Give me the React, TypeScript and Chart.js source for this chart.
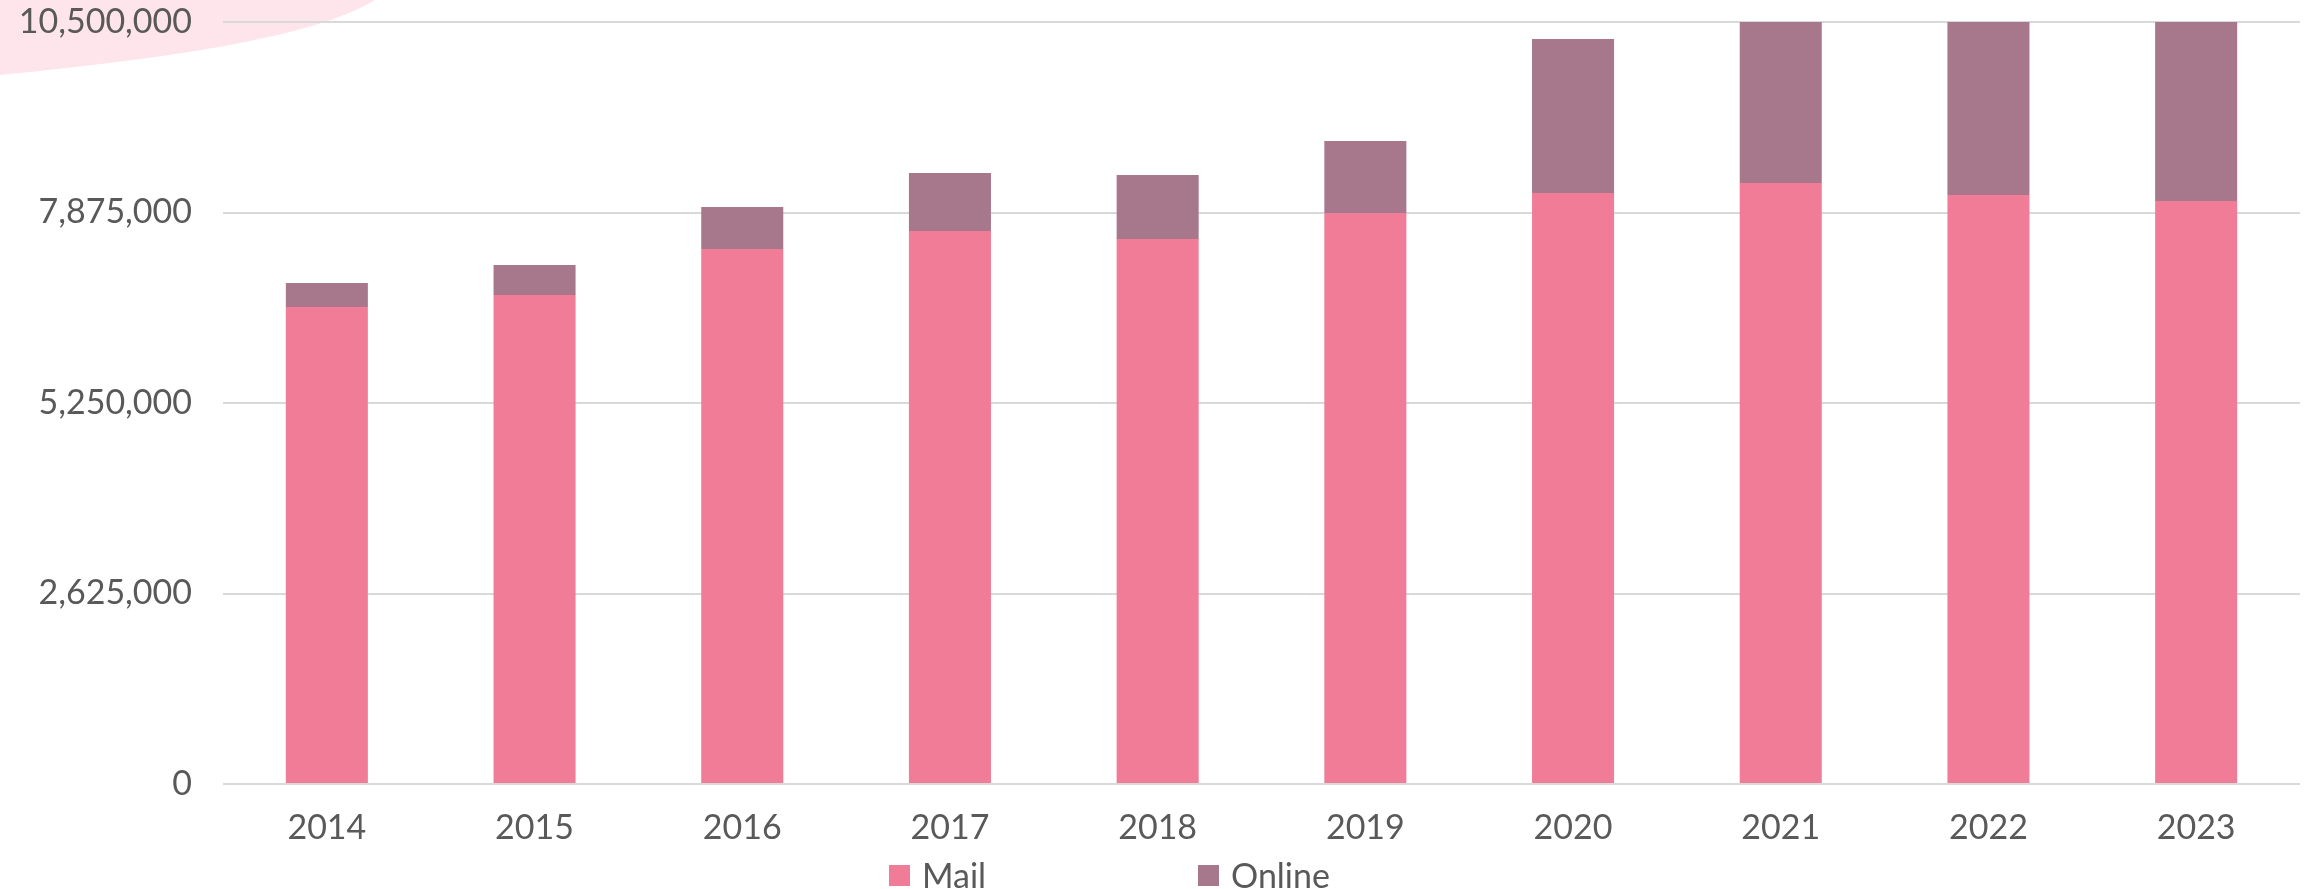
import React, { useEffect, useRef } from "react";
import { Chart, registerables } from "chart.js";

Chart.register(...registerables);

const years = ["2014", "2015", "2016", "2017", "2018", "2019", "2020", "2021", "2022", "2023"];
const mailValues = [6573000, 6738000, 7372000, 7620000, 7510000, 7868000, 8144000, 8282000, 8116000, 8034000];
const onlineValues = [331000, 414000, 579000, 800000, 882000, 993000, 2122000, 2700000, 2600000, 2650000];
const yTicks = [0, 2625000, 5250000, 7875000, 10500000];
const seriesNames = ["Mail", "Online"];
const seriesColors = ["#F07C98", "#A7788B"];

const W = 2305;
const H = 889;
const FONT = "Lato, 'Open Sans', sans-serif";
const TEXT = "#595959";

const blobPlugin = {
  id: "blob",
  beforeDraw(chart: any) {
    const ctx = chart.ctx;
    ctx.save();
    ctx.fillStyle = "#FDE5EB";
    ctx.beginPath();
    ctx.moveTo(0, 0);
    ctx.lineTo(375, 0);
    ctx.bezierCurveTo(310, 40, 150, 60, 0, 75);
    ctx.closePath();
    ctx.fill();
    ctx.restore();
  },
};

const legendPlugin = {
  id: "customLegend",
  afterDraw(chart: any) {
    const ctx = chart.ctx;
    const items = [
      { box: 889, text: 922 },
      { box: 1198, text: 1231 },
    ];
    const cy = 876;
    ctx.save();
    ctx.font = `34px ${FONT}`;
    ctx.textBaseline = "middle";
    ctx.textAlign = "left";
    items.forEach((it, i) => {
      ctx.fillStyle = seriesColors[i];
      ctx.fillRect(it.box, cy - 11, 21, 21);
      ctx.fillStyle = TEXT;
      ctx.fillText(seriesNames[i], it.text, cy + 1);
    });
    ctx.restore();
  },
};

export default function App() {
  const ref = useRef<HTMLCanvasElement>(null);
  useEffect(() => {
    if (!ref.current) return;
    const chart = new Chart(ref.current, {
      type: "bar",
      data: {
        labels: years,
        datasets: [
          { label: seriesNames[0], data: mailValues, backgroundColor: seriesColors[0], borderWidth: 0 },
          { label: seriesNames[1], data: onlineValues, backgroundColor: seriesColors[1], borderWidth: 0 },
        ],
      },
      options: {
        responsive: false,
        animation: false,
        layout: { padding: { top: 22, right: 5, left: 0, bottom: 0 } },
        datasets: { bar: { barPercentage: 0.395, categoryPercentage: 1 } },
        plugins: {
          legend: { display: false },
          tooltip: { enabled: false },
        },
        scales: {
          x: {
            stacked: true,
            grid: { display: false },
            border: { display: false },
            ticks: {
              color: TEXT,
              font: { family: FONT, size: 34 },
              padding: 16,
              maxRotation: 0,
            },
            afterFit(scale: any) {
              scale.height = 105;
              scale.paddingLeft = 0;
              scale.paddingRight = 0;
            },
          },
          y: {
            stacked: true,
            min: 0,
            max: 10500000,
            border: { display: false },
            grid: { color: "#D9D9D9", lineWidth: 2, drawTicks: false },
            ticks: {
              color: TEXT,
              font: { family: FONT, size: 34 },
              padding: 31,
              callback: (v: any) => Number(v).toLocaleString("en-US"),
            },
            afterBuildTicks(scale: any) {
              scale.ticks = yTicks.map((v) => ({ value: v }));
            },
            afterFit(scale: any) {
              scale.width = 223;
              scale.paddingTop = 0;
              scale.paddingBottom = 0;
            },
          },
        },
      },
      plugins: [blobPlugin, legendPlugin],
    });
    return () => chart.destroy();
  }, []);
  return (
    <div style={{ position: "fixed", left: 0, top: 0, width: W, height: H, background: "#fff" }}>
      <canvas ref={ref} width={W} height={H} />
    </div>
  );
}
